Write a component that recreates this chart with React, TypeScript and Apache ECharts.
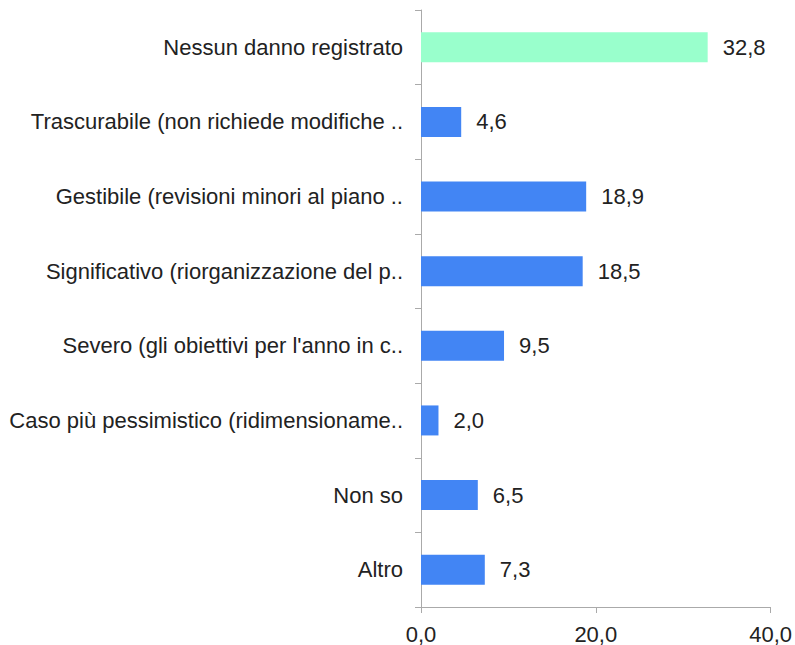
import React, { useEffect, useRef } from "react";
import * as echarts from "echarts";

const categories = [
  "Nessun danno registrato",
  "Trascurabile (non richiede modifiche ..",
  "Gestibile (revisioni minori al piano ..",
  "Significativo (riorganizzazione del p..",
  "Severo (gli obiettivi per l'anno in c..",
  "Caso più pessimistico (ridimensioname..",
  "Non so",
  "Altro",
];
const values = [32.8, 4.6, 18.9, 18.5, 9.5, 2.0, 6.5, 7.3];
const barColors = ["#99FFCC", "#4285F4", "#4285F4", "#4285F4", "#4285F4", "#4285F4", "#4285F4", "#4285F4"];
const xTicks = [0, 20, 40];

const fmt = (v: number) => v.toFixed(1).replace(".", ",");

export default function App() {
  const ref = useRef<HTMLDivElement>(null);
  useEffect(() => {
    if (!ref.current) return;
    const chart = echarts.init(ref.current, undefined, { renderer: "svg" });
    const font = "Liberation Sans";
    chart.setOption({
      animation: false,
      textStyle: { fontFamily: font },
      grid: { left: 421, right: 24, top: 10, bottom: 37, containLabel: false },
      xAxis: {
        type: "value",
        min: xTicks[0],
        max: xTicks[xTicks.length - 1],
        interval: 20,
        axisLine: { show: true, lineStyle: { color: "#aaaaaa", width: 1 } },
        axisTick: { show: true, length: 6, lineStyle: { color: "#aaaaaa" } },
        splitLine: { show: false },
        axisLabel: {
          color: "#222222",
          fontSize: 22,
          fontFamily: font,
          margin: 16,
          formatter: (v: number) => fmt(v),
        },
      },
      yAxis: {
        type: "category",
        inverse: true,
        data: categories,
        axisLine: { show: true, lineStyle: { color: "#aaaaaa", width: 1 } },
        axisTick: { show: true, length: 6, lineStyle: { color: "#aaaaaa" } },
        axisLabel: { color: "#222222", fontSize: 22, fontFamily: font, margin: 18 },
      },
      series: [
        {
          type: "bar",
          data: values.map((v, i) => ({ value: v, itemStyle: { color: barColors[i] } })),
          barWidth: 30,
          label: {
            show: true,
            position: "right",
            distance: 15,
            color: "#222222",
            fontSize: 22,
            fontFamily: font,
            formatter: (p: any) => fmt(p.value),
          },
        },
      ],
    });
    return () => chart.dispose();
  }, []);
  return <div ref={ref} style={{ width: 795, height: 645, position: "absolute", left: 0, top: 0 }} />;
}
